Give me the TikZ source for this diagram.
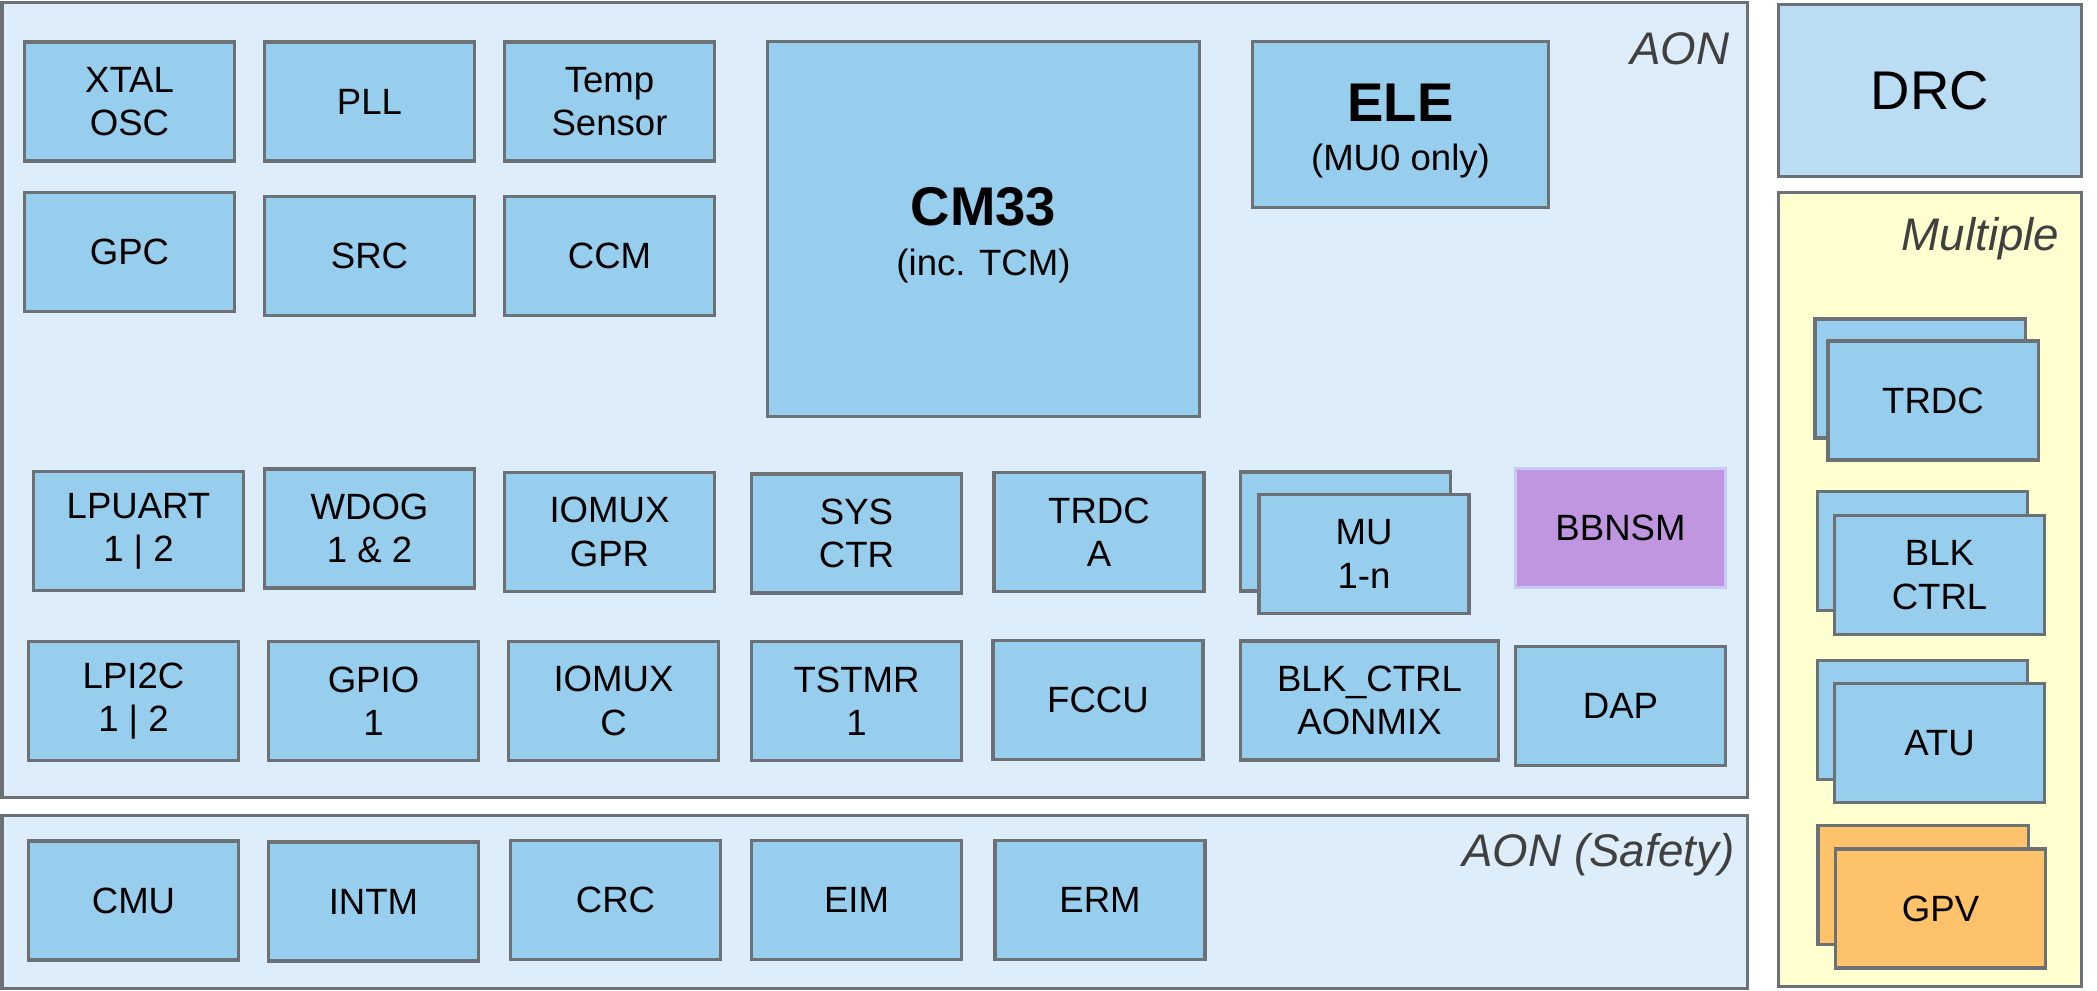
\documentclass[tikz,border=0pt]{standalone}
\usepackage{fontspec}
\setmainfont{Liberation Sans}
\definecolor{edgegray}{RGB}{108,113,118}
\definecolor{blkblue}{RGB}{151,205,237}
\definecolor{aonblue}{RGB}{221,237,249}
\definecolor{drcblue}{RGB}{186,221,243}
\definecolor{multyellow}{RGB}{255,255,208}
\definecolor{bbpurple}{RGB}{193,150,224}
\definecolor{bbedge}{RGB}{200,200,248}
\definecolor{gpvorange}{RGB}{253,194,106}
\definecolor{labelgray}{RGB}{64,64,64}
\newcommand{\bigbold}[1]{{\fontsize{15.5}{18}\selectfont\bfseries\rule{0pt}{14.5pt}#1}}
\tikzset{
         areabox/.style={draw=edgegray, line width=0.9pt, inner sep=0pt},
         blk/.style={draw=edgegray, fill=blkblue, line width=0.9pt,
                     minimum width=2.1cm, minimum height=1.19cm, inner sep=0pt,
                     align=center, font=\fontsize{10.4}{12.3}\selectfont},
         arealabel/.style={anchor=base east, inner sep=0pt, text=labelgray,
                           font=\fontsize{13}{15}\selectfont\itshape},
         bigtext/.style={font=\fontsize{15.5}{18}\selectfont}
        }

\begin{document}
\begin{tikzpicture}[x=0.01cm,y=-0.01cm]
      \useasboundingbox (0,0) rectangle (2097,991); % page
      % outer areas
      \node[areabox,fill=aonblue,minimum width=17.445cm,minimum height=7.945cm] (aon) at (874.75,399.75) {}; % AON area
      \node[areabox,fill=aonblue,minimum width=17.445cm,minimum height=1.73cm] (safety) at (874.75,902) {}; % AON (Safety) area
      \node[areabox,fill=drcblue,minimum width=3.025cm,minimum height=1.72cm,bigtext] (drc) at (1929.75,90.5) {DRC}; % DRC
      \node[areabox,fill=multyellow,minimum width=3.025cm,minimum height=7.935cm] (multi) at (1929.75,589.25) {}; % Multiple area
      \node[arealabel] (aonlbl) at (1730,65) {AON}; % AON label
      \node[arealabel] (safetylbl) at (1735,866) {AON (Safety)}; % Safety label
      \node[arealabel] (multilbl) at (2060,250) {Multiple}; % Multiple label
      % clocks, power, reset
      \node[blk] (xtal) at (129.5,101.5) {XTAL\\OSC}; % XTAL OSC
      \node[blk] (pll) at (369.5,101.5) {PLL}; % PLL
      \node[blk] (temp) at (609.5,101.5) {Temp\\Sensor}; % Temp Sensor
      \node[blk] (gpc) at (129.5,252) {GPC}; % GPC
      \node[blk] (src) at (369.5,256) {SRC}; % SRC
      \node[blk] (ccm) at (609.5,256) {CCM}; % CCM
      % cores
      \node[blk,minimum width=4.32cm,minimum height=3.75cm] (cm33) at (983.5,229) {\bigbold{CM33}\\[1.8pt](inc. TCM)}; % CM33
      \node[blk,minimum width=2.96cm,minimum height=1.66cm] (ele) at (1400.5,124.5) {\bigbold{ELE}\\[1.8pt](MU0 only)}; % ELE
      % third row
      \node[blk] (lpuart) at (138.5,531) {LPUART\\1 | 2}; % LPUART
      \node[blk] (wdog) at (369.5,528.5) {WDOG\\1 \& 2}; % WDOG
      \node[blk] (iomuxgpr) at (609.5,532) {IOMUX\\GPR}; % IOMUX GPR
      \node[blk] (sysctr) at (856.5,533.5) {SYS\\CTR}; % SYS CTR
      \node[blk] (trdca) at (1099,532) {TRDC\\A}; % TRDC A
      \node[blk] (mub) at (1345.5,531.5) {}; % MU back
      \node[blk] (mu) at (1364,554) {MU\\1-n}; % MU front
      \node[blk,draw=bbedge,fill=bbpurple] (bbnsm) at (1620.5,528) {BBNSM}; % BBNSM
      % fourth row
      \node[blk] (lpi2c) at (133.5,701) {LPI2C\\1 | 2}; % LPI2C
      \node[blk] (gpio) at (373.5,701) {GPIO\\1}; % GPIO
      \node[blk] (iomuxc) at (613.5,701) {IOMUX\\C}; % IOMUX C
      \node[blk] (tstmr) at (856.5,701) {TSTMR\\1}; % TSTMR
      \node[blk] (fccu) at (1098,700) {FCCU}; % FCCU
      \node[blk,minimum width=2.58cm] (blkaon) at (1369.5,700.5) {BLK\_CTRL\\AONMIX}; % BLK_CTRL AONMIX
      \node[blk] (dap) at (1620.5,706) {DAP}; % DAP
      % safety row
      \node[blk] (cmu) at (133.5,900.5) {CMU}; % CMU
      \node[blk] (intm) at (373.5,901.5) {INTM}; % INTM
      \node[blk] (crc) at (615.5,900) {CRC}; % CRC
      \node[blk] (eim) at (856.5,900) {EIM}; % EIM
      \node[blk] (erm) at (1100,900) {ERM}; % ERM
      % multiple instances
      \node[blk] (trdcb) at (1920,378.5) {}; % TRDC back
      \node[blk] (trdc) at (1933,400.5) {TRDC}; % TRDC front
      \node[blk] (blkctrlb) at (1922.5,551) {}; % BLK CTRL back
      \node[blk] (blkctrl) at (1939.5,575) {BLK\\CTRL}; % BLK CTRL front
      \node[blk] (atub) at (1922.5,720) {}; % ATU back
      \node[blk] (atu) at (1939.5,743) {ATU}; % ATU front
      \node[blk,fill=gpvorange] (gpvb) at (1923,885) {}; % GPV back
      \node[blk,fill=gpvorange] (gpv) at (1940.5,908.5) {GPV}; % GPV front
   \end{tikzpicture}
\end{document}
